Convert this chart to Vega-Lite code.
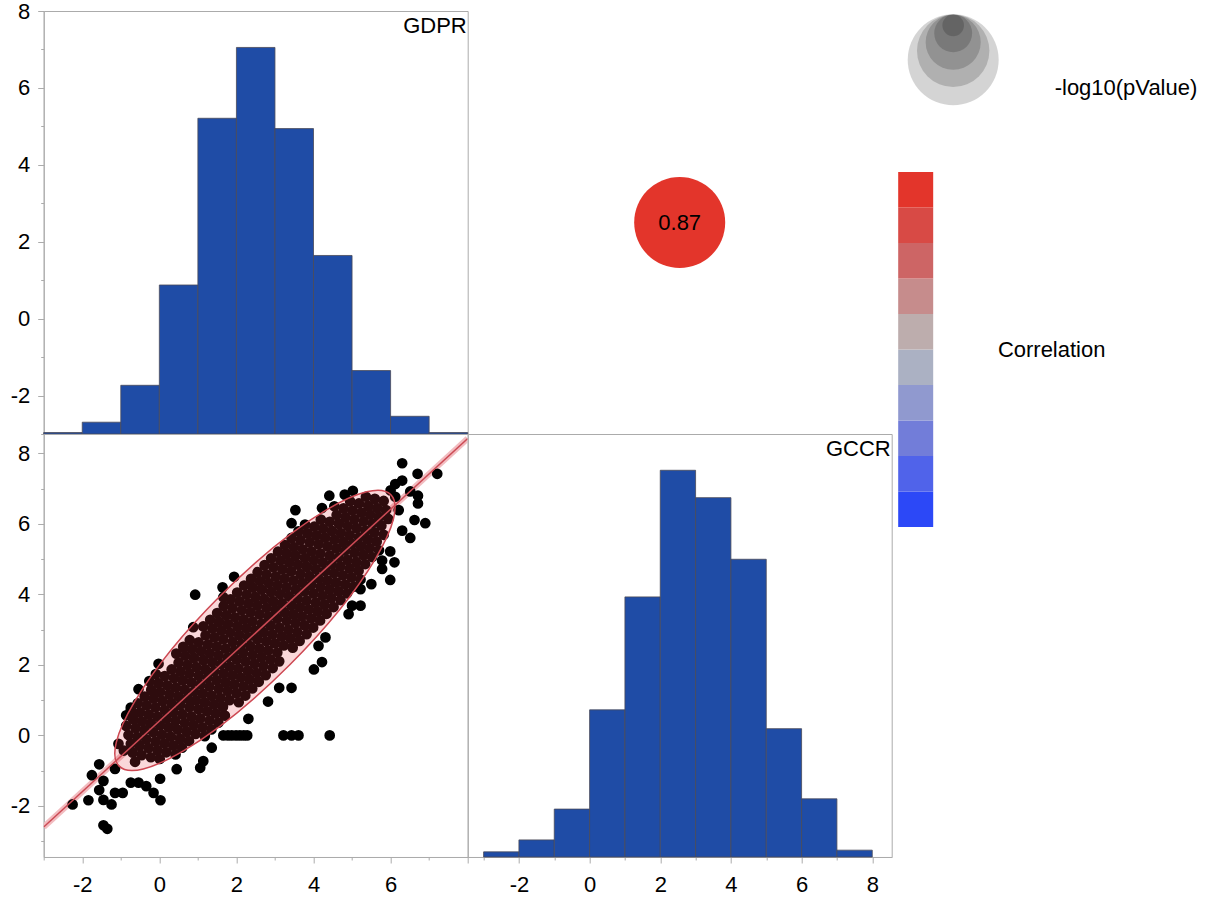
{
"$schema": "https://vega.github.io/schema/vega-lite/v6.json",
"background": "white",
"padding": {"left": 8.7, "top": -1, "right": 5, "bottom": 5},
"autosize": {"type": "pad"},
"bounds": "flush",
"spacing": 0,
"columns": 2,
"config": {
  "font": "Liberation Sans",
  "view": {"stroke": "#ABABAB", "strokeWidth": 1},
  "point": {"opacity": 1},
  "axis": {"grid": false, "domainColor": "#ABABAB", "tickColor": "#ABABAB", "labelColor": "#000000", "labelFontSize": 22, "labelFont": "Liberation Sans", "labelOverlap": false, "labelFlush": false},
  "legend": {"titleFont": "Liberation Sans", "titleFontSize": 22, "titleFontWeight": "normal", "titleColor": "#000000", "titleLimit": 400, "labelFont": "Liberation Sans"}
},
"concat": [
{
  "width": 424, "height": 423,
  "layer": [
    {
      "data": {"values": [
        {"bin_start": -3, "bin_end": -2, "count": 1},
        {"bin_start": -2, "bin_end": -1, "count": 8},
        {"bin_start": -1, "bin_end": 0, "count": 33},
        {"bin_start": 0, "bin_end": 1, "count": 101},
        {"bin_start": 1, "bin_end": 2, "count": 214},
        {"bin_start": 2, "bin_end": 3, "count": 262},
        {"bin_start": 3, "bin_end": 4, "count": 207},
        {"bin_start": 4, "bin_end": 5, "count": 121},
        {"bin_start": 5, "bin_end": 6, "count": 43},
        {"bin_start": 6, "bin_end": 7, "count": 12},
        {"bin_start": 7, "bin_end": 8, "count": 1}
      ]},
      "mark": {"type": "bar", "fill": "#1F4CA6", "stroke": "#4A4A58", "strokeWidth": 0.8},
      "encoding": {
        "x": {"field": "bin_start", "type": "quantitative", "scale": {"domain": [-3, 8], "nice": false, "zero": false}, "axis": null},
        "x2": {"field": "bin_end"},
        "y": {"field": "count", "type": "quantitative", "scale": {"domain": [0, 286.7], "nice": false}, "axis": null},
        "y2": {"datum": 0}
      }
    },
    {
      "data": {"values": [{"label": "GDPR"}]},
      "mark": {"type": "text", "align": "right", "baseline": "top", "fontSize": 22, "dy": 5, "dx": -1, "color": "#000000"},
      "encoding": {
        "text": {"field": "label"},
        "x": {"datum": 8, "type": "quantitative", "scale": {"domain": [-3, 8], "nice": false, "zero": false}, "axis": null},
        "y": {"datum": 8, "type": "quantitative", "scale": {"domain": [-3, 8], "nice": false, "zero": false},
              "axis": {"orient": "left", "title": null, "values": [-3,-2,-1,0,1,2,3,4,5,6,7,8], "labelExpr": "datum.value % 2 === 0 ? '' + datum.value : ''", "tickSize": {"condition": {"test": "datum.value % 2 === 0", "value": 6}, "value": 3}, "labelPadding": 8}}
      }
    }
  ],
  "resolve": {"scale": {"y": "independent"}}
},
{
  "width": 424, "height": 423,
  "data": {"values": [{"correlation": 0.87, "neglog10p": 300}]},
  "layer": [
    {
      "mark": {"type": "point", "filled": true, "strokeWidth": 0},
      "encoding": {
        "size": {"field": "neglog10p", "type": "quantitative",
                 "scale": {"type": "linear", "domain": [0, 300], "range": [0, 8281], "nice": false},
                 "legend": {"orient": "none", "legendX": 864, "legendY": 3.3, "direction": "horizontal", "columns": 5, "gridAlign": "none", "columnPadding": -91,
                            "values": [17, 52, 110, 190, 300],
                            "symbolType": "circle",
                            "symbolFillColor": "#000000", "symbolOpacity": 0.17, "symbolStrokeWidth": 0,
                            "labelExpr": "''", "labelFontSize": 1, "labelOffset": 0,
                            "title": "-log10(pValue)", "titleOrient": "right", "titleAnchor": "end", "titleBaseline": "line-bottom", "titleLineHeight": 32, "titlePadding": 56, "titleAlign": "left"}},
        "color": {"field": "correlation", "type": "quantitative",
                  "scale": {"type": "quantize", "domain": [-1, 1], "nice": false, "zero": false,
                            "range": ["#2C48F7", "#5063EA", "#727DD9", "#9099CF", "#ABB1C3", "#BDADAD", "#C68C8C", "#CD6565", "#D84A45", "#E3352B"]},
                  "legend": {"type": "gradient", "direction": "vertical", "orient": "none", "legendX": 854.5, "legendY": 161,
                             "gradientLength": 355, "gradientThickness": 35, "gradientStrokeWidth": 0,
                             "labelExpr": "abs(datum.value) < 0.001 ? 'Correlation' : ''", "labelFontSize": 22, "labelColor": "#000000", "labelOffset": 64.7, "labelOverlap": false, "labelLimit": 300, "labelAlign": "left", "labelBaseline": "middle",
                             "title": null}}
      }
    },
    {
      "mark": {"type": "text", "fontSize": 22, "color": "#000000"},
      "encoding": {"text": {"field": "correlation", "type": "quantitative", "format": ".2f"}}
    }
  ]
},
{
  "width": 424, "height": 423,
  "encoding": {
    "x": {"field": "GDPR", "type": "quantitative", "scale": {"domain": [-3, 8], "nice": false, "zero": false},
          "axis": {"orient": "bottom", "title": null, "values": [-3,-2,-1,0,1,2,3,4,5,6,7,8], "labelExpr": "datum.value % 2 === 0 && datum.value < 8 ? '' + datum.value : ''", "tickSize": {"condition": {"test": "datum.value % 2 === 0", "value": 6}, "value": 3}, "labelPadding": 12}},
    "y": {"field": "GCCR", "type": "quantitative", "scale": {"domain": [-3.45, 8.55], "nice": false, "zero": false},
          "axis": {"orient": "left", "title": null, "values": [-3,-2,-1,0,1,2,3,4,5,6,7,8], "labelExpr": "datum.value % 2 === 0 ? '' + datum.value : ''", "tickSize": {"condition": {"test": "datum.value % 2 === 0", "value": 6}, "value": 3}, "labelPadding": 8}}
  },
  "layer": [
    {
      "data": {"values": [{"GDPR": -3, "GCCR": -2.6}, {"GDPR": 8, "GCCR": 8.42}]},
      "mark": {"type": "line", "stroke": "#F2BCC0", "strokeWidth": 6, "clip": true}
    },
    {
      "data": {"values": [
{"GDPR":-0.69,"GCCR":-0.49},{"GDPR":-0.51,"GCCR":-0.30},{"GDPR":-0.34,"GCCR":-0.11},{"GDPR":-0.16,"GCCR":0.09},{"GDPR":0.02,"GCCR":0.28},{"GDPR":0.19,"GCCR":0.47},{"GDPR":0.37,"GCCR":0.66},{"GDPR":0.54,"GCCR":0.86},{"GDPR":0.72,"GCCR":1.05},{"GDPR":0.90,"GCCR":1.24},{"GDPR":1.07,"GCCR":1.44},{"GDPR":1.25,"GCCR":1.63},{"GDPR":1.42,"GCCR":1.82},{"GDPR":1.60,"GCCR":2.02},{"GDPR":1.78,"GCCR":2.21},{"GDPR":1.95,"GCCR":2.40},{"GDPR":2.13,"GCCR":2.59},{"GDPR":2.30,"GCCR":2.79},{"GDPR":2.48,"GCCR":2.98},{"GDPR":2.66,"GCCR":3.17},{"GDPR":2.83,"GCCR":3.37},{"GDPR":3.01,"GCCR":3.56},{"GDPR":3.18,"GCCR":3.75},{"GDPR":3.36,"GCCR":3.95},{"GDPR":3.54,"GCCR":4.14},{"GDPR":3.71,"GCCR":4.33},{"GDPR":3.89,"GCCR":4.52},{"GDPR":4.06,"GCCR":4.72},{"GDPR":4.24,"GCCR":4.91},{"GDPR":4.42,"GCCR":5.10},{"GDPR":4.59,"GCCR":5.30},{"GDPR":4.77,"GCCR":5.49},{"GDPR":4.94,"GCCR":5.68},{"GDPR":5.12,"GCCR":5.88},{"GDPR":5.30,"GCCR":6.07},{"GDPR":5.47,"GCCR":6.26},{"GDPR":5.65,"GCCR":6.45},{"GDPR":5.82,"GCCR":6.65},
{"GDPR":-0.63,"GCCR":-0.75},{"GDPR":-0.46,"GCCR":-0.56},{"GDPR":-0.28,"GCCR":-0.36},{"GDPR":-0.10,"GCCR":-0.17},{"GDPR":0.07,"GCCR":0.02},{"GDPR":0.25,"GCCR":0.22},{"GDPR":0.42,"GCCR":0.41},{"GDPR":0.60,"GCCR":0.60},{"GDPR":0.78,"GCCR":0.80},{"GDPR":0.95,"GCCR":0.99},{"GDPR":1.13,"GCCR":1.18},{"GDPR":1.30,"GCCR":1.38},{"GDPR":1.48,"GCCR":1.57},{"GDPR":1.66,"GCCR":1.76},{"GDPR":1.83,"GCCR":1.95},{"GDPR":2.01,"GCCR":2.15},{"GDPR":2.18,"GCCR":2.34},{"GDPR":2.36,"GCCR":2.53},{"GDPR":2.54,"GCCR":2.73},{"GDPR":2.71,"GCCR":2.92},{"GDPR":2.89,"GCCR":3.11},{"GDPR":3.06,"GCCR":3.31},{"GDPR":3.24,"GCCR":3.50},{"GDPR":3.42,"GCCR":3.69},{"GDPR":3.59,"GCCR":3.88},{"GDPR":3.77,"GCCR":4.08},{"GDPR":3.94,"GCCR":4.27},{"GDPR":4.12,"GCCR":4.46},{"GDPR":4.30,"GCCR":4.66},{"GDPR":4.47,"GCCR":4.85},{"GDPR":4.65,"GCCR":5.04},{"GDPR":4.82,"GCCR":5.24},{"GDPR":5.00,"GCCR":5.43},{"GDPR":5.18,"GCCR":5.62},{"GDPR":5.35,"GCCR":5.81},{"GDPR":5.53,"GCCR":6.01},{"GDPR":5.70,"GCCR":6.20},{"GDPR":5.88,"GCCR":6.39},
{"GDPR":-0.92,"GCCR":-0.43},{"GDPR":-0.74,"GCCR":-0.24},{"GDPR":-0.57,"GCCR":-0.05},{"GDPR":-0.39,"GCCR":0.15},{"GDPR":-0.22,"GCCR":0.34},{"GDPR":-0.04,"GCCR":0.53},{"GDPR":0.14,"GCCR":0.72},{"GDPR":0.31,"GCCR":0.92},{"GDPR":0.49,"GCCR":1.11},{"GDPR":0.66,"GCCR":1.30},{"GDPR":0.84,"GCCR":1.50},{"GDPR":1.02,"GCCR":1.69},{"GDPR":1.19,"GCCR":1.88},{"GDPR":1.37,"GCCR":2.08},{"GDPR":1.54,"GCCR":2.27},{"GDPR":1.72,"GCCR":2.46},{"GDPR":1.90,"GCCR":2.65},{"GDPR":2.07,"GCCR":2.85},{"GDPR":2.25,"GCCR":3.04},{"GDPR":2.42,"GCCR":3.23},{"GDPR":2.60,"GCCR":3.43},{"GDPR":2.78,"GCCR":3.62},{"GDPR":2.95,"GCCR":3.81},{"GDPR":3.13,"GCCR":4.01},{"GDPR":3.30,"GCCR":4.20},{"GDPR":3.48,"GCCR":4.39},{"GDPR":3.66,"GCCR":4.58},{"GDPR":3.83,"GCCR":4.78},{"GDPR":4.01,"GCCR":4.97},{"GDPR":4.18,"GCCR":5.16},{"GDPR":4.36,"GCCR":5.36},{"GDPR":4.54,"GCCR":5.55},{"GDPR":4.71,"GCCR":5.74},{"GDPR":4.89,"GCCR":5.94},{"GDPR":5.06,"GCCR":6.13},{"GDPR":5.24,"GCCR":6.32},{"GDPR":5.42,"GCCR":6.51},{"GDPR":5.59,"GCCR":6.71},
{"GDPR":-0.22,"GCCR":-0.62},{"GDPR":-0.05,"GCCR":-0.42},{"GDPR":0.13,"GCCR":-0.23},{"GDPR":0.30,"GCCR":-0.04},{"GDPR":0.48,"GCCR":0.16},{"GDPR":0.66,"GCCR":0.35},{"GDPR":0.83,"GCCR":0.54},{"GDPR":1.01,"GCCR":0.74},{"GDPR":1.18,"GCCR":0.93},{"GDPR":1.36,"GCCR":1.12},{"GDPR":1.54,"GCCR":1.32},{"GDPR":1.71,"GCCR":1.51},{"GDPR":1.89,"GCCR":1.70},{"GDPR":2.06,"GCCR":1.89},{"GDPR":2.24,"GCCR":2.09},{"GDPR":2.42,"GCCR":2.28},{"GDPR":2.59,"GCCR":2.47},{"GDPR":2.77,"GCCR":2.67},{"GDPR":2.94,"GCCR":2.86},{"GDPR":3.12,"GCCR":3.05},{"GDPR":3.30,"GCCR":3.25},{"GDPR":3.47,"GCCR":3.44},{"GDPR":3.65,"GCCR":3.63},{"GDPR":3.82,"GCCR":3.82},{"GDPR":4.00,"GCCR":4.02},{"GDPR":4.18,"GCCR":4.21},{"GDPR":4.35,"GCCR":4.40},{"GDPR":4.53,"GCCR":4.60},{"GDPR":4.70,"GCCR":4.79},{"GDPR":4.88,"GCCR":4.98},{"GDPR":5.06,"GCCR":5.18},{"GDPR":5.23,"GCCR":5.37},{"GDPR":5.41,"GCCR":5.56},{"GDPR":5.58,"GCCR":5.75},{"GDPR":5.76,"GCCR":5.95},{"GDPR":5.94,"GCCR":6.14},
{"GDPR":-0.80,"GCCR":0.01},{"GDPR":-0.62,"GCCR":0.21},{"GDPR":-0.45,"GCCR":0.40},{"GDPR":-0.27,"GCCR":0.59},{"GDPR":-0.10,"GCCR":0.79},{"GDPR":0.08,"GCCR":0.98},{"GDPR":0.26,"GCCR":1.17},{"GDPR":0.43,"GCCR":1.36},{"GDPR":0.61,"GCCR":1.56},{"GDPR":0.78,"GCCR":1.75},{"GDPR":0.96,"GCCR":1.94},{"GDPR":1.14,"GCCR":2.14},{"GDPR":1.31,"GCCR":2.33},{"GDPR":1.49,"GCCR":2.52},{"GDPR":1.66,"GCCR":2.72},{"GDPR":1.84,"GCCR":2.91},{"GDPR":2.02,"GCCR":3.10},{"GDPR":2.19,"GCCR":3.29},{"GDPR":2.37,"GCCR":3.49},{"GDPR":2.54,"GCCR":3.68},{"GDPR":2.72,"GCCR":3.87},{"GDPR":2.90,"GCCR":4.07},{"GDPR":3.07,"GCCR":4.26},{"GDPR":3.25,"GCCR":4.45},{"GDPR":3.42,"GCCR":4.65},{"GDPR":3.60,"GCCR":4.84},{"GDPR":3.78,"GCCR":5.03},{"GDPR":3.95,"GCCR":5.22},{"GDPR":4.13,"GCCR":5.42},{"GDPR":4.30,"GCCR":5.61},{"GDPR":4.48,"GCCR":5.80},{"GDPR":4.66,"GCCR":6.00},{"GDPR":4.83,"GCCR":6.19},{"GDPR":5.01,"GCCR":6.38},{"GDPR":5.18,"GCCR":6.58},{"GDPR":5.36,"GCCR":6.77},
{"GDPR":0.01,"GCCR":-0.67},{"GDPR":0.18,"GCCR":-0.48},{"GDPR":0.36,"GCCR":-0.29},{"GDPR":0.54,"GCCR":-0.10},{"GDPR":0.71,"GCCR":0.10},{"GDPR":0.89,"GCCR":0.29},{"GDPR":1.06,"GCCR":0.48},{"GDPR":1.24,"GCCR":0.68},{"GDPR":1.42,"GCCR":0.87},{"GDPR":1.59,"GCCR":1.06},{"GDPR":1.77,"GCCR":1.26},{"GDPR":1.94,"GCCR":1.45},{"GDPR":2.12,"GCCR":1.64},{"GDPR":2.30,"GCCR":1.83},{"GDPR":2.47,"GCCR":2.03},{"GDPR":2.65,"GCCR":2.22},{"GDPR":2.82,"GCCR":2.41},{"GDPR":3.00,"GCCR":2.61},{"GDPR":3.18,"GCCR":2.80},{"GDPR":3.35,"GCCR":2.99},{"GDPR":3.53,"GCCR":3.19},{"GDPR":3.70,"GCCR":3.38},{"GDPR":3.88,"GCCR":3.57},{"GDPR":4.06,"GCCR":3.76},{"GDPR":4.23,"GCCR":3.96},{"GDPR":4.41,"GCCR":4.15},{"GDPR":4.58,"GCCR":4.34},{"GDPR":4.76,"GCCR":4.54},{"GDPR":4.94,"GCCR":4.73},{"GDPR":5.11,"GCCR":4.92},{"GDPR":5.29,"GCCR":5.12},{"GDPR":5.46,"GCCR":5.31},{"GDPR":5.64,"GCCR":5.50},{"GDPR":5.82,"GCCR":5.69},
{"GDPR":-0.86,"GCCR":0.27},{"GDPR":-0.68,"GCCR":0.46},{"GDPR":-0.50,"GCCR":0.65},{"GDPR":-0.33,"GCCR":0.85},{"GDPR":-0.15,"GCCR":1.04},{"GDPR":0.02,"GCCR":1.23},{"GDPR":0.20,"GCCR":1.42},{"GDPR":0.38,"GCCR":1.62},{"GDPR":0.55,"GCCR":1.81},{"GDPR":0.73,"GCCR":2.00},{"GDPR":0.90,"GCCR":2.20},{"GDPR":1.08,"GCCR":2.39},{"GDPR":1.26,"GCCR":2.58},{"GDPR":1.43,"GCCR":2.78},{"GDPR":1.61,"GCCR":2.97},{"GDPR":1.78,"GCCR":3.16},{"GDPR":1.96,"GCCR":3.35},{"GDPR":2.14,"GCCR":3.55},{"GDPR":2.31,"GCCR":3.74},{"GDPR":2.49,"GCCR":3.93},{"GDPR":2.66,"GCCR":4.13},{"GDPR":2.84,"GCCR":4.32},{"GDPR":3.02,"GCCR":4.51},{"GDPR":3.19,"GCCR":4.71},{"GDPR":3.37,"GCCR":4.90},{"GDPR":3.54,"GCCR":5.09},{"GDPR":3.72,"GCCR":5.28},{"GDPR":3.90,"GCCR":5.48},{"GDPR":4.07,"GCCR":5.67},{"GDPR":4.25,"GCCR":5.86},{"GDPR":4.42,"GCCR":6.06},{"GDPR":4.60,"GCCR":6.25},{"GDPR":4.78,"GCCR":6.44},{"GDPR":4.95,"GCCR":6.64},
{"GDPR":0.42,"GCCR":-0.54},{"GDPR":0.59,"GCCR":-0.35},{"GDPR":0.77,"GCCR":-0.16},{"GDPR":0.94,"GCCR":0.04},{"GDPR":1.12,"GCCR":0.23},{"GDPR":1.30,"GCCR":0.42},{"GDPR":1.47,"GCCR":0.62},{"GDPR":1.65,"GCCR":0.81},{"GDPR":1.82,"GCCR":1.00},{"GDPR":2.00,"GCCR":1.20},{"GDPR":2.18,"GCCR":1.39},{"GDPR":2.35,"GCCR":1.58},{"GDPR":2.53,"GCCR":1.77},{"GDPR":2.70,"GCCR":1.97},{"GDPR":2.88,"GCCR":2.16},{"GDPR":3.06,"GCCR":2.35},{"GDPR":3.23,"GCCR":2.55},{"GDPR":3.41,"GCCR":2.74},{"GDPR":3.58,"GCCR":2.93},{"GDPR":3.76,"GCCR":3.13},{"GDPR":3.94,"GCCR":3.32},{"GDPR":4.11,"GCCR":3.51},{"GDPR":4.29,"GCCR":3.70},{"GDPR":4.46,"GCCR":3.90},{"GDPR":4.64,"GCCR":4.09},{"GDPR":4.82,"GCCR":4.28},{"GDPR":4.99,"GCCR":4.48},{"GDPR":5.17,"GCCR":4.67},{"GDPR":5.34,"GCCR":4.86},{"GDPR":5.52,"GCCR":5.06},{"GDPR":5.70,"GCCR":5.25},
{"GDPR":-0.74,"GCCR":0.71},{"GDPR":-0.56,"GCCR":0.91},{"GDPR":-0.38,"GCCR":1.10},{"GDPR":-0.21,"GCCR":1.29},{"GDPR":-0.03,"GCCR":1.48},{"GDPR":0.14,"GCCR":1.68},{"GDPR":0.32,"GCCR":1.87},{"GDPR":0.50,"GCCR":2.06},{"GDPR":0.67,"GCCR":2.26},{"GDPR":0.85,"GCCR":2.45},{"GDPR":1.02,"GCCR":2.64},{"GDPR":1.20,"GCCR":2.84},{"GDPR":1.38,"GCCR":3.03},{"GDPR":1.55,"GCCR":3.22},{"GDPR":1.73,"GCCR":3.41},{"GDPR":1.90,"GCCR":3.61},{"GDPR":2.08,"GCCR":3.80},{"GDPR":2.26,"GCCR":3.99},{"GDPR":2.43,"GCCR":4.19},{"GDPR":2.61,"GCCR":4.38},{"GDPR":2.78,"GCCR":4.57},{"GDPR":2.96,"GCCR":4.77},{"GDPR":3.14,"GCCR":4.96},{"GDPR":3.31,"GCCR":5.15},{"GDPR":3.49,"GCCR":5.34},{"GDPR":3.66,"GCCR":5.54},{"GDPR":3.84,"GCCR":5.73},{"GDPR":4.02,"GCCR":5.92},{"GDPR":4.19,"GCCR":6.12},{"GDPR":4.54,"GCCR":6.50},
{"GDPR":1.18,"GCCR":-0.02},{"GDPR":1.35,"GCCR":0.17},{"GDPR":1.53,"GCCR":0.36},{"GDPR":1.70,"GCCR":0.56},{"GDPR":2.06,"GCCR":0.94},{"GDPR":2.23,"GCCR":1.13},{"GDPR":2.41,"GCCR":1.33},{"GDPR":2.58,"GCCR":1.52},{"GDPR":2.76,"GCCR":1.71},{"GDPR":2.94,"GCCR":1.91},{"GDPR":3.11,"GCCR":2.10},{"GDPR":3.46,"GCCR":2.49},{"GDPR":3.64,"GCCR":2.68},{"GDPR":3.82,"GCCR":2.87},{"GDPR":3.99,"GCCR":3.06},{"GDPR":4.17,"GCCR":3.26},{"GDPR":4.34,"GCCR":3.45},{"GDPR":4.52,"GCCR":3.64},{"GDPR":4.70,"GCCR":3.84},{"GDPR":4.87,"GCCR":4.03},{"GDPR":5.05,"GCCR":4.22},{"GDPR":5.22,"GCCR":4.42},
{"GDPR":-0.26,"GCCR":1.54},{"GDPR":-0.09,"GCCR":1.74},{"GDPR":0.44,"GCCR":2.32},{"GDPR":0.62,"GCCR":2.51},{"GDPR":0.79,"GCCR":2.70},{"GDPR":1.14,"GCCR":3.09},{"GDPR":1.32,"GCCR":3.28},{"GDPR":1.50,"GCCR":3.47},{"GDPR":1.67,"GCCR":3.67},{"GDPR":1.85,"GCCR":3.86},{"GDPR":2.02,"GCCR":4.05},{"GDPR":2.20,"GCCR":4.25},{"GDPR":2.38,"GCCR":4.44},{"GDPR":2.55,"GCCR":4.63},{"GDPR":2.73,"GCCR":4.83},{"GDPR":2.90,"GCCR":5.02},{"GDPR":3.08,"GCCR":5.21},{"GDPR":3.26,"GCCR":5.40},{"GDPR":3.43,"GCCR":5.60},{"GDPR":3.61,"GCCR":5.79},{"GDPR":3.78,"GCCR":5.98},
{"GDPR":6.30,"GCCR":7.72},{"GDPR":6.70,"GCCR":7.42},{"GDPR":7.21,"GCCR":7.42},{"GDPR":6.30,"GCCR":7.23},{"GDPR":6.12,"GCCR":7.13},{"GDPR":6.51,"GCCR":6.92},{"GDPR":6.71,"GCCR":6.80},{"GDPR":6.71,"GCCR":6.58},{"GDPR":6.21,"GCCR":6.39},{"GDPR":6.62,"GCCR":6.11},{"GDPR":6.90,"GCCR":6.02},{"GDPR":6.30,"GCCR":5.81},{"GDPR":6.51,"GCCR":5.60},{"GDPR":5.99,"GCCR":5.22},{"GDPR":6.10,"GCCR":4.91},{"GDPR":5.78,"GCCR":4.72},{"GDPR":5.99,"GCCR":4.41},{"GDPR":5.50,"GCCR":4.29},{"GDPR":5.78,"GCCR":4.96},{"GDPR":5.22,"GCCR":4.15},{"GDPR":5.00,"GCCR":3.68},{"GDPR":5.22,"GCCR":3.68},{"GDPR":4.91,"GCCR":3.44},{"GDPR":4.31,"GCCR":2.78},{"GDPR":4.22,"GCCR":2.08},{"GDPR":4.01,"GCCR":1.87},{"GDPR":3.11,"GCCR":1.35},{"GDPR":3.43,"GCCR":1.35},{"GDPR":2.82,"GCCR":0.96},{"GDPR":2.31,"GCCR":0.47},{"GDPR":4.13,"GCCR":2.54},{"GDPR":6.12,"GCCR":6.77},{"GDPR":6.00,"GCCR":6.95},
{"GDPR":3.53,"GCCR":6.39},{"GDPR":3.43,"GCCR":6.02},{"GDPR":4.41,"GCCR":6.80},{"GDPR":4.81,"GCCR":6.83},{"GDPR":5.02,"GCCR":6.94},{"GDPR":4.22,"GCCR":6.45},{"GDPR":0.93,"GCCR":3.99},{"GDPR":1.64,"GCCR":4.20},{"GDPR":1.94,"GCCR":4.50},{"GDPR":0.88,"GCCR":3.07},{"GDPR":1.66,"GCCR":3.92},{"GDPR":-0.02,"GCCR":2.03},{"GDPR":-0.54,"GCCR":1.31},{"GDPR":-0.74,"GCCR":0.79},{"GDPR":-0.86,"GCCR":0.57},{"GDPR":-0.67,"GCCR":0.57},{"GDPR":-1.06,"GCCR":-0.24},
{"GDPR":1.66,"GCCR":0},{"GDPR":1.78,"GCCR":0},{"GDPR":1.88,"GCCR":0},{"GDPR":1.99,"GCCR":0},{"GDPR":2.09,"GCCR":0},{"GDPR":2.19,"GCCR":0},{"GDPR":2.28,"GCCR":0},{"GDPR":3.22,"GCCR":0},{"GDPR":3.43,"GCCR":0},{"GDPR":3.61,"GCCR":0},{"GDPR":4.42,"GCCR":0},
{"GDPR":-1.56,"GCCR":-0.82},{"GDPR":-1.15,"GCCR":-0.95},{"GDPR":-1.75,"GCCR":-1.13},{"GDPR":-1.45,"GCCR":-1.29},{"GDPR":-1.56,"GCCR":-1.55},{"GDPR":-1.15,"GCCR":-1.63},{"GDPR":-0.95,"GCCR":-1.63},{"GDPR":-2.25,"GCCR":-1.96},{"GDPR":-1.84,"GCCR":-1.84},{"GDPR":-1.45,"GCCR":-1.83},{"GDPR":-1.24,"GCCR":-1.96},{"GDPR":-1.45,"GCCR":-2.55},{"GDPR":-1.35,"GCCR":-2.65},{"GDPR":-0.74,"GCCR":-1.34},{"GDPR":-0.54,"GCCR":-1.34},{"GDPR":-0.34,"GCCR":-1.44},{"GDPR":-0.15,"GCCR":-1.63},{"GDPR":0.03,"GCCR":-1.84},{"GDPR":0.02,"GCCR":-1.23},{"GDPR":0.45,"GCCR":-0.96},{"GDPR":1.06,"GCCR":-0.92},{"GDPR":1.14,"GCCR":-0.73},{"GDPR":1.36,"GCCR":-0.35}
      ]},
      "mark": {"type": "point", "filled": true, "size": 115, "color": "#000000", "opacity": 1, "strokeWidth": 0, "clip": true}
    },
    {
      "data": {"values": [{"GDPR": 2.48, "GCCR": 2.98}]},
      "mark": {"type": "point", "filled": true, "shape": "M -1 0 C -1 -0.1408 -0.5523 -0.255 0 -0.255 C 0.5523 -0.255 1 -0.1408 1 0 C 1 0.1408 0.5523 0.255 0 0.255 C -0.5523 0.255 -1 0.1408 -1 0 Z",
               "size": 147456, "angle": 315, "fill": "#E63C46", "fillOpacity": 0.2, "stroke": "#CD4852", "strokeWidth": 1.5, "strokeOpacity": 1, "opacity": 1}
    },
    {
      "data": {"values": [{"GDPR": -3, "GCCR": -2.6}, {"GDPR": 8, "GCCR": 8.42}]},
      "mark": {"type": "line", "stroke": "#CC4B55", "strokeWidth": 1.5, "clip": true}
    }
  ]
},
{
  "width": 424, "height": 423,
  "layer": [
    {
      "data": {"values": [
        {"bin_start": -3, "bin_end": -2, "count": 3},
        {"bin_start": -2, "bin_end": -1, "count": 10},
        {"bin_start": -1, "bin_end": 0, "count": 28},
        {"bin_start": 0, "bin_end": 1, "count": 86},
        {"bin_start": 1, "bin_end": 2, "count": 152},
        {"bin_start": 2, "bin_end": 3, "count": 226},
        {"bin_start": 3, "bin_end": 4, "count": 210},
        {"bin_start": 4, "bin_end": 5, "count": 174},
        {"bin_start": 5, "bin_end": 6, "count": 75},
        {"bin_start": 6, "bin_end": 7, "count": 34},
        {"bin_start": 7, "bin_end": 8, "count": 4}
      ]},
      "mark": {"type": "bar", "fill": "#1F4CA6", "stroke": "#4A4A58", "strokeWidth": 0.8},
      "encoding": {
        "x": {"field": "bin_start", "type": "quantitative", "scale": {"domain": [-3.45, 8.55], "nice": false, "zero": false},
              "axis": {"orient": "bottom", "title": null, "values": [-3,-2,-1,0,1,2,3,4,5,6,7,8], "labelExpr": "datum.value % 2 === 0 ? '' + datum.value : ''", "tickSize": {"condition": {"test": "datum.value % 2 === 0", "value": 6}, "value": 3}, "labelPadding": 12}},
        "x2": {"field": "bin_end"},
        "y": {"field": "count", "type": "quantitative", "scale": {"domain": [0, 247.2], "nice": false}, "axis": null},
        "y2": {"datum": 0}
      }
    },
    {
      "data": {"values": [{"label": "GCCR"}]},
      "mark": {"type": "text", "align": "right", "baseline": "top", "fontSize": 22, "dy": 5, "dx": -1, "color": "#000000"},
      "encoding": {
        "text": {"field": "label"},
        "x": {"datum": 8.55, "type": "quantitative", "scale": {"domain": [-3.45, 8.55], "nice": false, "zero": false},
              "axis": {"orient": "bottom", "title": null, "values": [-3,-2,-1,0,1,2,3,4,5,6,7,8], "labelExpr": "datum.value % 2 === 0 ? '' + datum.value : ''", "tickSize": {"condition": {"test": "datum.value % 2 === 0", "value": 6}, "value": 3}, "labelPadding": 12}},
        "y": {"datum": 8.55, "type": "quantitative", "scale": {"domain": [-3.45, 8.55], "nice": false, "zero": false}, "axis": null}
      }
    }
  ],
  "resolve": {"scale": {"y": "independent"}}
}
]
}
